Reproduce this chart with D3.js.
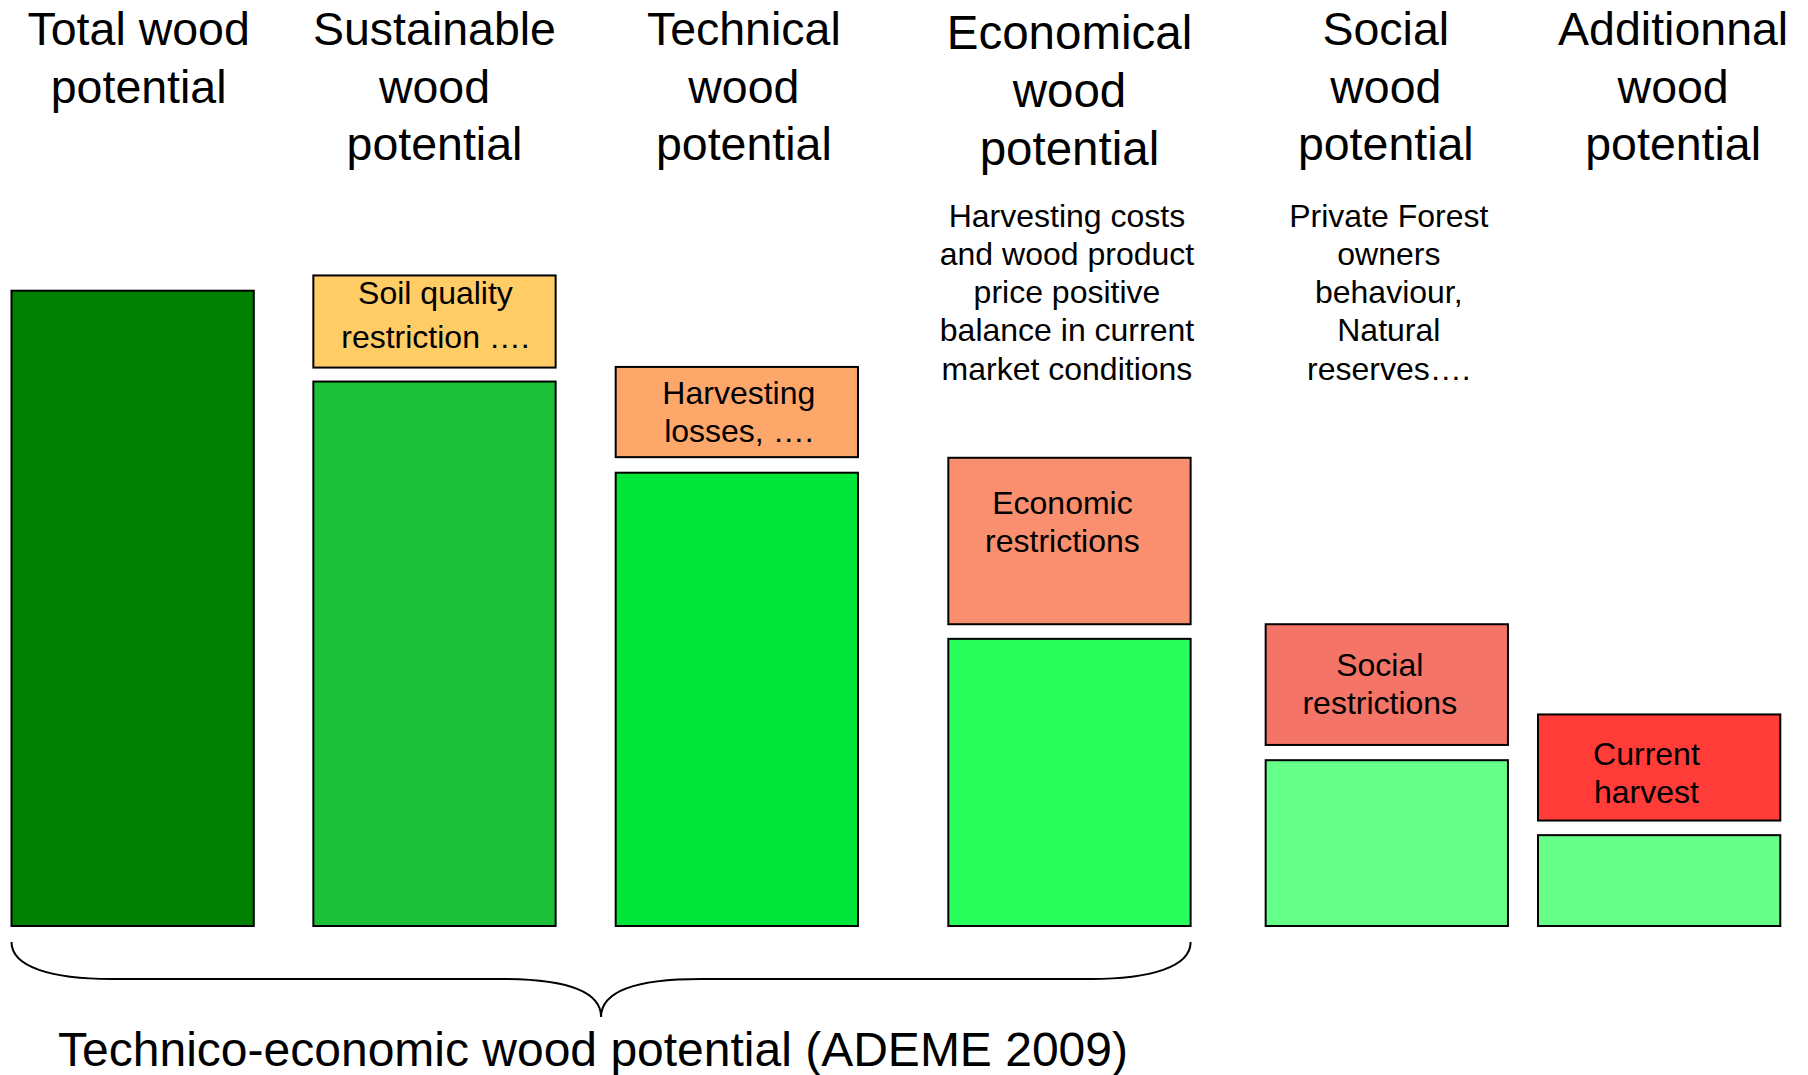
<!DOCTYPE html>
<html>
<head>
<meta charset="utf-8">
<script src="https://cdn.jsdelivr.net/npm/d3@7"></script>
<style>
  body { margin: 0; background: #fff; }
  svg { display: block; font-family: "Liberation Sans", Arial, sans-serif; }
</style>
</head>
<body>
<svg id="viz"></svg>
<script>
(function () {
  'use strict';

  // columns of the diagram
  const categories = ['total', 'sustainable', 'technical', 'economical', 'social', 'additional'];
  const headers = [
    ['Total wood', 'potential'],
    ['Sustainable', 'wood', 'potential'],
    ['Technical', 'wood', 'potential'],
    ['Economical', 'wood', 'potential'],
    ['Social', 'wood', 'potential'],
    ['Additionnal', 'wood', 'potential']
  ];
  // green bar = remaining potential (total = 100)
  const potential = [100, 85.7, 71.35, 45.2, 26.1, 14.3];
  // restriction box on top of each bar (low, high), none for the first one
  const restrictLow = [null, 87.9, 73.8, 47.5, 28.5, 16.6];
  const restrictHigh = [null, 102.4, 88.0, 73.7, 47.5, 33.3];
  const restrictLabels = [
    null,
    ['Soil quality', 'restriction \u2026.'],
    ['Harvesting', 'losses, \u2026.'],
    ['Economic', 'restrictions', ''],
    ['Social', 'restrictions'],
    ['Current', 'harvest']
  ];
  const notes = [
    null, null, null,
    ['Harvesting costs', 'and wood product', 'price positive', 'balance in current', 'market conditions'],
    ['Private Forest', 'owners', 'behaviour,', 'Natural', 'reserves\u2026.'],
    null
  ];
  const braceSpan = ['total', 'economical'];
  const braceLabel = 'Technico-economic wood potential (ADEME 2009)';

  // styles / layout tweaks
  const barColors = ['#008000', '#1dc139', '#00e639', '#28ff5c', '#66ff88', '#66ff88'];
  const restrictColors = [null, '#ffcc66', '#fda76b', '#f98f6e', '#f47468', '#ff3c37'];
  const colShift = [0, -3.4, -6.3, 21.1, 33.2, 0.3];
  const headerDx = [6, 0, 7, 0, -1, 14];
  const labelDx = [0, 1, 2, -7, -7, -12.7];
  const labelDy = [0, -7, -1, -1, -1, 5];
  const labelLh = [0, 43.3, 38, 37.5, 37.7, 37.6];

  const width = 1808;
  const height = 1075;
  const baseY = 926;

  const svg = d3.select('#viz')
    .attr('width', width)
    .attr('height', height);

  const x = d3.scaleBand()
    .domain(categories)
    .range([11.5, 1780])
    .paddingInner(0.2062)
    .paddingOuter(0);

  const y = d3.scaleLinear()
    .domain([0, 100])
    .range([baseY, 290.7]);

  const bw = x.bandwidth();
  const left = (c, i) => x(c) + colShift[i];
  const center = (c, i) => left(c, i) + bw / 2;

  const cols = categories.map((c, i) => ({ c, i }));

  // headers
  const head = svg.selectAll('.header')
    .data(cols)
    .enter()
    .append('text')
      .attr('class', 'header')
      .attr('text-anchor', 'middle')
      .style('font-size', d => d.c === 'economical' ? '47.5px' : '46.5px')
      .attr('fill', '#000');
  head.each(function (d) {
    const base = d.c === 'economical' ? 49.3 : 45;
    const lh = d.c === 'economical' ? 58 : 57.5;
    d3.select(this).selectAll('tspan')
      .data(headers[d.i])
      .enter()
      .append('tspan')
        .attr('x', center(d.c, d.i) + headerDx[d.i])
        .attr('y', (t, k) => base + k * lh)
        .text(t => t);
  });

  // notes under the headers
  const noteCols = cols.filter(d => notes[d.i]);
  const nt = svg.selectAll('.note')
    .data(noteCols)
    .enter()
    .append('text')
      .attr('class', 'note')
      .attr('text-anchor', 'middle')
      .style('font-size', '32px');
  nt.each(function (d) {
    d3.select(this).selectAll('tspan')
      .data(notes[d.i])
      .enter()
      .append('tspan')
        .attr('x', center(d.c, d.i) + (d.c === 'economical' ? -2.5 : 2))
        .attr('y', (t, k) => 226.5 + k * 38.3)
        .text(t => t);
  });

  // green bars
  svg.selectAll('.bar')
    .data(cols)
    .enter()
    .append('rect')
      .attr('class', 'bar')
      .attr('x', d => left(d.c, d.i))
      .attr('y', d => y(potential[d.i]))
      .attr('width', bw)
      .attr('height', d => y(0) - y(potential[d.i]))
      .attr('fill', d => barColors[d.i])
      .attr('stroke', '#000')
      .attr('stroke-width', 2);

  // restriction boxes
  const rCols = cols.filter(d => restrictLow[d.i] !== null);
  svg.selectAll('.restrict')
    .data(rCols)
    .enter()
    .append('rect')
      .attr('class', 'restrict')
      .attr('x', d => left(d.c, d.i))
      .attr('y', d => y(restrictHigh[d.i]))
      .attr('width', bw)
      .attr('height', d => y(restrictLow[d.i]) - y(restrictHigh[d.i]))
      .attr('fill', d => restrictColors[d.i])
      .attr('stroke', '#000')
      .attr('stroke-width', 2);

  const rl = svg.selectAll('.rlabel')
    .data(rCols)
    .enter()
    .append('text')
      .attr('class', 'rlabel')
      .attr('text-anchor', 'middle')
      .style('font-size', '32px');
  rl.each(function (d) {
    const lines = restrictLabels[d.i];
    const lh = labelLh[d.i];
    const mid = (y(restrictHigh[d.i]) + y(restrictLow[d.i])) / 2 + labelDy[d.i];
    const first = mid - (lines.length - 1) / 2 * lh + 11.5;
    d3.select(this).selectAll('tspan')
      .data(lines)
      .enter()
      .append('tspan')
        .attr('x', center(d.c, d.i) + labelDx[d.i])
        .attr('y', (t, k) => first + k * lh)
        .text(t => t);
  });

  // curly brace under the technico-economic columns
  const i0 = categories.indexOf(braceSpan[0]);
  const i1 = categories.indexOf(braceSpan[1]);
  const x0 = left(braceSpan[0], i0);
  const x1 = left(braceSpan[1], i1) + bw;
  const xc = (x0 + x1) / 2;
  const yTop = 942, yMid = 979, yTip = 1017;
  const path = d3.path();
  path.moveTo(x0, yTop);
  path.bezierCurveTo(x0, yMid - 12, x0 + 40, yMid, x0 + 100, yMid);
  path.lineTo(xc - 100, yMid);
  path.bezierCurveTo(xc - 35, yMid, xc, yMid + 12, xc, yTip);
  path.bezierCurveTo(xc, yMid + 12, xc + 35, yMid, xc + 100, yMid);
  path.lineTo(x1 - 100, yMid);
  path.bezierCurveTo(x1 - 40, yMid, x1, yMid - 12, x1, yTop);
  svg.append('path')
    .attr('d', path.toString())
    .attr('fill', 'none')
    .attr('stroke', '#000')
    .attr('stroke-width', 2);

  svg.append('text')
    .attr('x', xc - 8)
    .attr('y', 1066)
    .attr('text-anchor', 'middle')
    .style('font-size', '48px')
    .text(braceLabel);
}());
</script>
</body>
</html>
